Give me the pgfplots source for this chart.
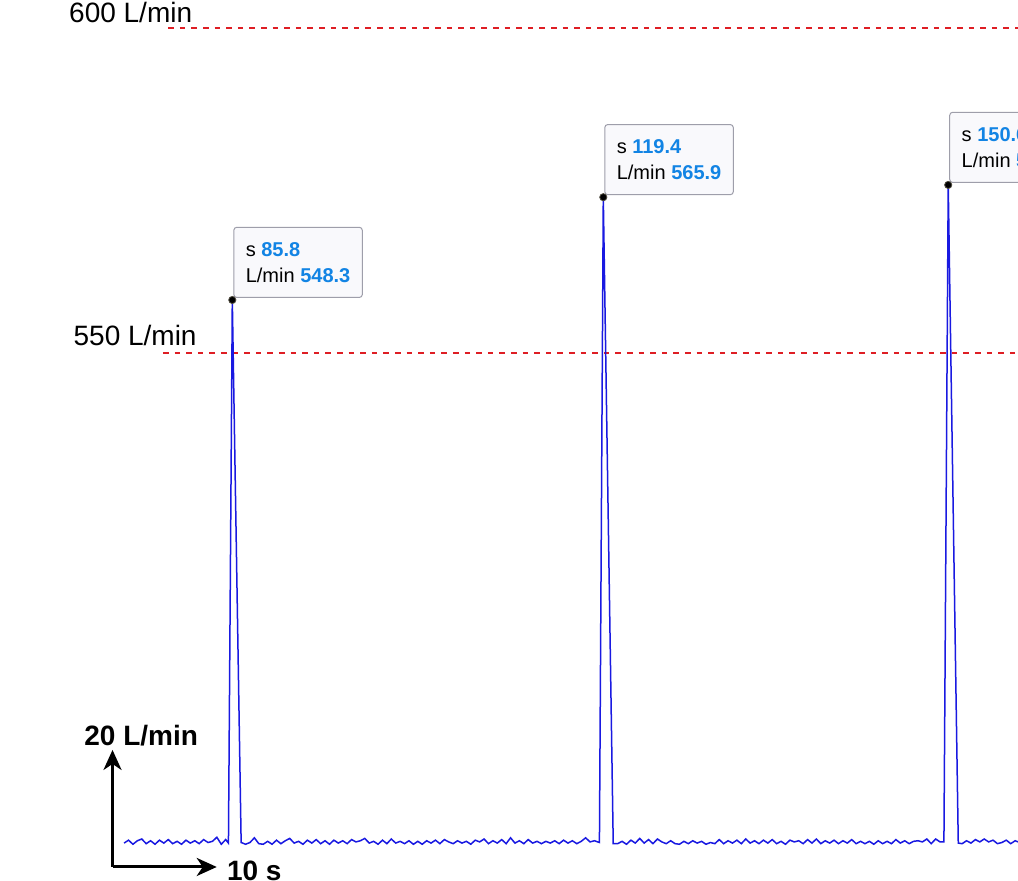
\documentclass[border=0pt]{standalone}
\usepackage{fontspec}
\setmainfont{Liberation Sans}
\usepackage{pgfplots}
\pgfplotsset{compat=1.18}
\usetikzlibrary{arrows.meta}
\definecolor{flowblue}{RGB}{25,25,225}
\definecolor{refred}{RGB}{222,30,36}
\definecolor{tipblue}{RGB}{18,132,228}
\definecolor{tipedge}{RGB}{158,158,170}
\definecolor{tipfill}{RGB}{249,249,252}
\begin{document}
\begin{tikzpicture}
\begin{axis}[at={(0,0)}, anchor=south west, scale only axis,
  width=509pt, height=440.5pt,
  xmin=64.76, xmax=156.96, ymin=448.81, ymax=599.67,
  hide axis, clip=false]
% reference lines
\addplot[refred, line width=1pt, dash pattern=on 2.8pt off 3pt] coordinates {(80.0,594.93) (157.5,594.93)};
\addplot[refred, line width=1pt, dash pattern=on 2.8pt off 3pt] coordinates {(79.52,539.22) (157.5,539.22)};
% flow signal
\addplot[flowblue, line width=0.75pt] coordinates {
(76.0,455.3) (76.4,455.8) (76.8,455.1) (77.2,455.7) (77.6,456.0) (78.0,455.2) (78.4,455.7) (78.8,455.1)
(79.2,455.8) (79.6,455.3) (80.0,455.9) (80.4,455.2) (80.8,455.6) (81.2,455.1) (81.6,455.8) (82.0,455.3)
(82.4,455.7) (82.8,455.2) (83.2,455.9) (83.6,455.4) (84.0,455.6) (84.4,456.3) (84.8,455.1) (85.2,455.9)
(85.45,455.3) (85.8,548.3) (86.6,455.4)
(87.0,455.1) (87.4,455.4) (87.8,456.2) (88.2,455.2) (88.6,455.1) (89.0,455.6) (89.4,455.1) (89.8,455.8)
(90.2,455.2) (90.6,455.7) (91.0,456.1) (91.4,455.3) (91.8,455.6) (92.2,455.1) (92.6,455.8) (93.0,455.3)
(93.4,455.9) (93.8,455.2) (94.2,455.7) (94.6,455.1) (95.0,455.8) (95.4,455.3) (95.8,455.7) (96.2,455.2)
(96.6,455.9) (97.0,455.5) (97.4,455.7) (97.8,456.1) (98.2,455.3) (98.6,455.6) (99.0,455.1) (99.4,455.8)
(99.8,455.2) (100.2,456.0) (100.6,455.3) (101.0,455.6) (101.4,455.2) (101.8,455.7) (102.2,455.1) (102.6,455.6)
(103.0,455.1) (103.4,455.7) (103.8,455.3) (104.2,455.8) (104.6,455.2) (105.0,455.9) (105.4,455.5) (105.8,455.2)
(106.2,455.7) (106.6,455.3) (107.0,455.6) (107.4,455.1) (107.8,455.8) (108.2,455.5) (108.6,456.0) (109.0,455.2)
(109.4,455.7) (109.8,455.3) (110.2,455.9) (110.6,455.2) (111.0,456.2) (111.4,455.3) (111.8,455.7) (112.2,455.2)
(112.6,455.9) (113.0,455.3) (113.4,455.6) (113.8,455.2) (114.2,455.6) (114.6,455.3) (115.0,455.7) (115.4,455.2)
(115.8,455.8) (116.2,455.3) (116.6,455.7) (117.0,455.2) (117.4,455.6) (117.8,456.2) (118.2,455.5) (118.6,455.7)
(119.05,455.4) (119.4,565.9) (120.3,455.2)
(120.7,455.2) (121.1,455.6) (121.5,455.1) (121.9,455.8) (122.3,455.3) (122.7,456.1) (123.1,455.3) (123.5,455.9)
(123.9,455.2) (124.3,456.0) (124.7,455.5) (125.1,455.2) (125.5,455.7) (125.9,455.2) (126.3,455.1) (126.7,455.6)
(127.1,455.2) (127.5,455.7) (127.9,455.3) (128.3,455.6) (128.7,455.1) (129.1,455.4) (129.5,455.2) (129.9,455.9)
(130.3,455.2) (130.7,455.7) (131.1,455.3) (131.5,455.8) (131.9,455.2) (132.3,456.0) (132.7,455.3) (133.1,455.7)
(133.5,455.2) (133.9,455.8) (134.3,455.3) (134.7,455.9) (135.1,455.2) (135.5,455.6) (135.9,455.1) (136.3,455.8)
(136.7,455.5) (137.1,455.7) (137.5,455.2) (137.9,455.9) (138.3,455.3) (138.7,456.0) (139.1,455.2) (139.5,455.7)
(139.9,455.3) (140.3,455.8) (140.7,455.2) (141.1,455.7) (141.5,455.3) (141.9,455.9) (142.3,455.2) (142.7,455.6)
(143.1,455.2) (143.5,455.6) (143.9,455.1) (144.3,455.7) (144.7,455.2) (145.1,455.6) (145.5,455.2) (145.9,455.9)
(146.3,455.3) (146.7,455.7) (147.1,455.2) (147.5,455.6) (147.9,455.7) (148.3,455.5) (148.7,456.0) (149.1,455.2)
(149.5,456.0) (149.9,455.5)
(150.25,455.5) (150.64,568.0) (151.55,455.3)
(151.9,455.2) (152.3,455.7) (152.7,455.3) (153.1,455.9) (153.5,455.5) (153.9,456.0) (154.3,455.5) (154.7,455.8)
(155.1,455.2) (155.5,455.4) (155.9,455.8) (156.3,455.2) (156.7,455.7) (157.1,455.4)
};
% data tip markers
\addplot[only marks, mark=*, mark size=1.8pt, mark options={fill=black, draw=black!80!yellow}] coordinates {(85.8,548.3) (119.4,565.9) (150.64,568.0)};
% data tips
\tikzset{tip/.style={draw=tipedge, fill=tipfill, line width=0.5pt, rounded corners=1.5pt,
  anchor=south west, align=left, inner xsep=6pt, inner ysep=7.5pt,
  font=\fontsize{10}{13}\selectfont, xshift=0.5pt, yshift=1pt}}
\node[tip] at (axis cs:85.8,548.3) {s \textbf{\color{tipblue}85.8}\\L/min \textbf{\color{tipblue}548.3}};
\node[tip] at (axis cs:119.4,565.9) {s \textbf{\color{tipblue}119.4}\\L/min \textbf{\color{tipblue}565.9}};
\node[tip] at (axis cs:150.64,568.0) {s \textbf{\color{tipblue}150.6}\\L/min \textbf{\color{tipblue}568.0}};
% reference labels
\node[anchor=base east, inner sep=0pt, font=\fontsize{14}{16}\selectfont] at (axis cs:82.20,595.78) {600 L/min};
\node[anchor=base east, inner sep=0pt, font=\fontsize{14}{16}\selectfont] at (axis cs:82.60,540.51) {550 L/min};
% scale bar
\draw[line width=1.5pt, -{Stealth[length=10pt, width=9pt, inset=3pt]}] (axis cs:74.95,451.21) -- (axis cs:74.95,471.25);
\draw[line width=1.5pt, -{Stealth[length=10pt, width=9pt, inset=3pt]}] (axis cs:74.95,451.21) -- (axis cs:84.39,451.21);
\node[anchor=base west, inner sep=0pt, font=\fontsize{14}{16}\selectfont\bfseries] at (axis cs:72.37,471.93) {20 L/min};
\node[anchor=base west, inner sep=0pt, font=\fontsize{14}{16}\selectfont\bfseries] at (axis cs:85.29,448.81) {10 s};
\end{axis}
\pgfresetboundingbox
\path[use as bounding box] (0,0) rectangle (509pt,440.5pt);
\end{tikzpicture}
\end{document}
